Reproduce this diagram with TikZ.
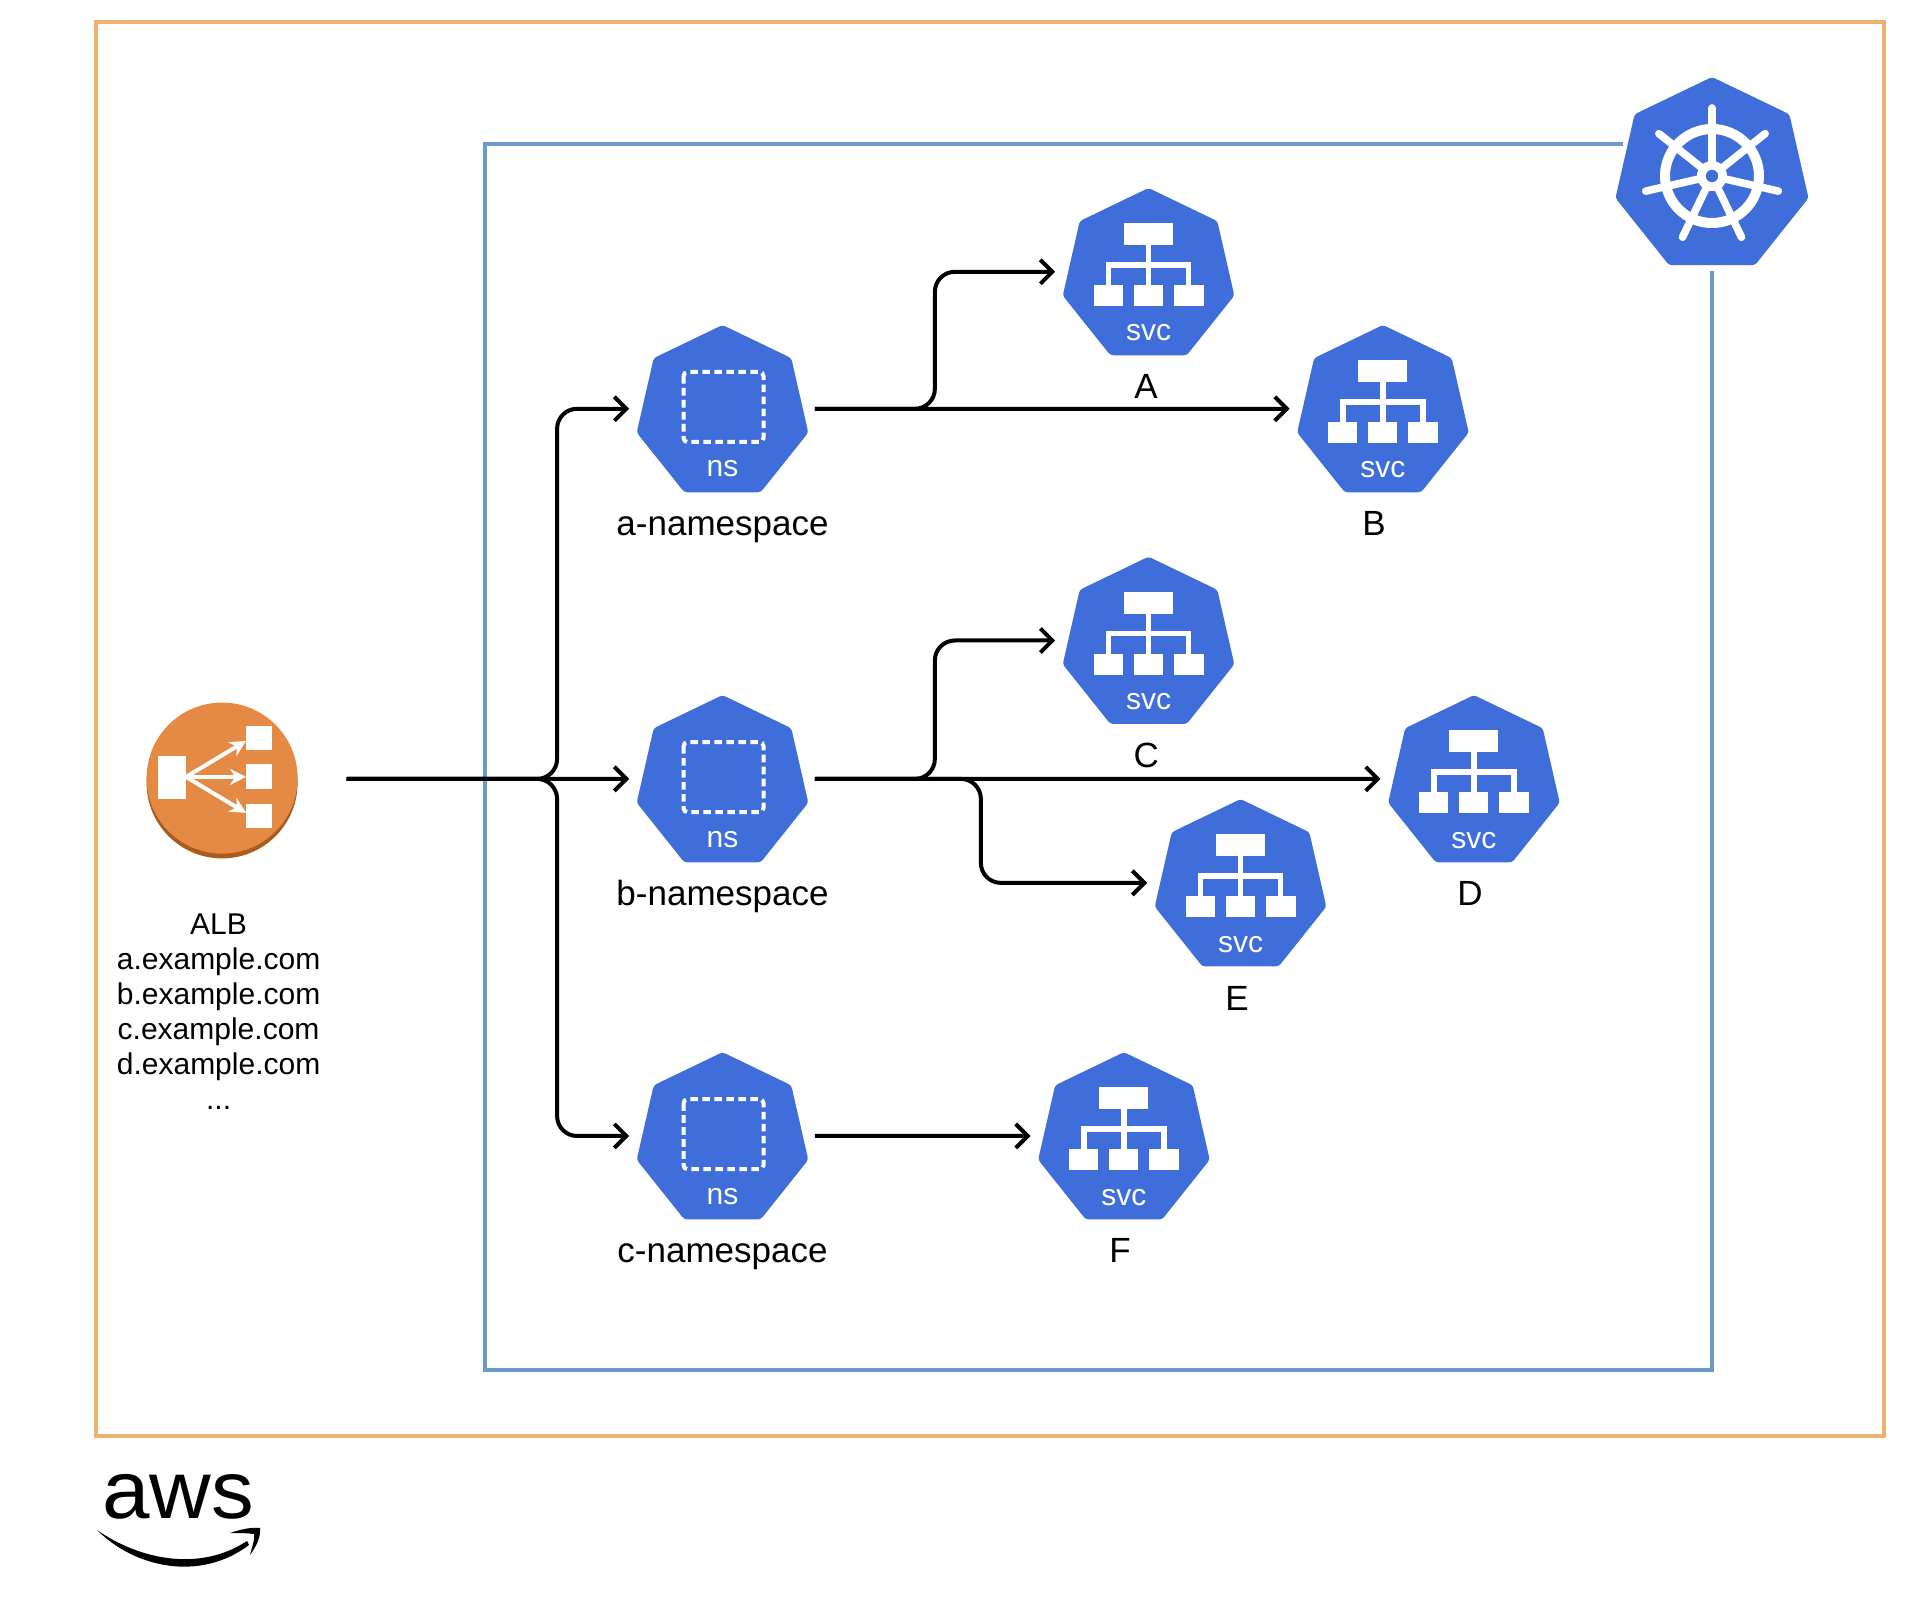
\documentclass[tikz,border=0pt]{standalone}
\usepackage{fontspec}
\setmainfont{Liberation Sans}
\usetikzlibrary{positioning,arrows.meta,shapes.geometric}
\definecolor{k8sblue}{HTML}{3F6EDB}
\definecolor{awsframe}{HTML}{EDB26E}
\definecolor{clusterframe}{HTML}{6C9BCB}
\definecolor{albfill}{HTML}{E58A45}
\definecolor{albshade}{HTML}{A85C1E}

\begin{document}
\begin{tikzpicture}[x=0.5pt,y=-0.5pt]
  \tikzstyle{hept}=[regular polygon,regular polygon sides=7,minimum size=88pt,inner sep=0pt,outer sep=0pt,fill=k8sblue,rounded corners=1.5pt]
  \tikzstyle{tag}=[inner sep=0pt,font=\fontsize{17.5}{20}\selectfont]
  \tikzstyle{glyphtext}=[inner sep=0pt,text=white,font=\fontsize{15}{18}\selectfont]
  \tikzstyle{link}=[line width=2pt,rounded corners=10pt,shorten <=6pt,shorten >=6.5pt,-{Straight Barb[length=6pt,width=12pt]}]
  \useasboundingbox (0,0) rectangle (1924,1598);
  % frames
  \draw[awsframe,line width=2.4pt] (96,22) rectangle (1884,1436);
  \draw[clusterframe,line width=2.2pt] (1623,144) -| (485,1370) -| (1712,271);
  \node[hept,minimum size=99pt] (k8s) at (1712,176) {};
  % namespaces
  \node[hept] (nsA) at (722.5,413) {};
  \node[hept,below=101.4pt of nsA] (nsB) {};
  \node[hept,below=94.9pt of nsB] (nsC) {};
  % services
  \node[hept,right=131.7pt of nsA,yshift=68.5pt] (svcA) {};
  \node[hept,right=248.9pt of nsA] (svcB) {};
  \node[hept,right=131.7pt of nsB,yshift=69.2pt] (svcC) {};
  \node[hept,right=294.4pt of nsB] (svcD) {};
  \node[hept,right=177.7pt of nsB,yshift=-52pt] (svcE) {};
  \node[hept,right=119.4pt of nsC] (svcF) {};
  % balancer
  \node[circle,minimum size=75.5pt,inner sep=0pt,outer sep=0pt,left=171.8pt of nsB,yshift=2.1pt] (alb) {};
  \fill[albshade] ([yshift=-2pt]alb.center) circle (37.75pt);
  \fill[albfill] ([yshift=0.4pt]alb.center) circle (37.75pt);
  % labels
  \node[tag,below=12pt of nsA] (nsAtag) {a-namespace};
  \node[tag,below=8.5pt of nsB] (nsBtag) {b-namespace};
  \node[tag,below=12pt of nsC] (nsCtag) {c-namespace};
  \node[tag,below=9.5pt of svcA,xshift=-1.2pt] (svcAtag) {A};
  \node[tag,below=9.5pt of svcB,xshift=-4.5pt] (svcBtag) {B};
  \node[tag,below=9.5pt of svcC,xshift=-1.2pt] (svcCtag) {C};
  \node[tag,below=9.5pt of svcD,xshift=-2pt] (svcDtag) {D};
  \node[tag,below=10pt of svcE,xshift=-1.7pt] (svcEtag) {E};
  \node[tag,below=9.5pt of svcF,xshift=-2pt] (svcFtag) {F};
  \node[inner sep=0pt,align=center,font=\fontsize{15}{17.5}\selectfont,below=29.3pt of alb,xshift=-1.75pt] (albtag) {ALB\\a.example.com\\b.example.com\\c.example.com\\d.example.com\\...};
  % glyphs
  \foreach \n in {nsA,nsB,nsC}{
    \begin{scope}[shift={(\n.center)}]
      \draw[white,line width=2pt,dash pattern=on 3.8pt off 2.2pt,rounded corners=2pt] (-39,-41) rectangle (41,29);
      \node[glyphtext] (\n-txt) at (0,56) {ns};
    \end{scope}
  }
  \foreach \n in {svcA,svcB,svcC,svcD,svcE,svcF}{
    \begin{scope}[shift={(\n.center)}]
      \fill[white] (-24.5,-53) rectangle (24.5,-31);
      \fill[white] (-55,9) rectangle (-25.5,30);
      \fill[white] (-14.5,9) rectangle (14.5,30);
      \fill[white] (25.5,9) rectangle (55,30);
      \draw[white,line width=2.8pt] (0,-31) -- (0,9);
      \draw[white,line width=2.8pt] (-40,9) -- (-40,-11) -- (40,-11) -- (40,9);
      \node[glyphtext] (\n-txt) at (0,57) {svc};
    \end{scope}
  }
  % wheel
  \begin{scope}[shift={(k8s.center)}]
    \draw[white,line width=5pt] (0,0) circle (23.5pt);
    \foreach \a in {0,...,6}{
      \draw[white,line width=3.8pt,line cap=round] (0,0) -- (-90+\a*51.43:68);
    }
    \fill[white] (0,0) circle (7.5pt);
    \fill[k8sblue] (0,0) circle (3.1pt);
  \end{scope}
  % balancer glyph
  \begin{scope}[shift={(alb.center)}]
    \fill[white] (-64,-23) rectangle (-36,20);
    \fill[white] (24,-53) rectangle (50,-29);
    \fill[white] (24,-15) rectangle (50,10);
    \fill[white] (24,25) rectangle (50,49);
    \draw[white,line width=2pt,-{Stealth[length=8pt,width=8pt]}] (-36,-2) -- (24,-38);
    \draw[white,line width=2pt,-{Stealth[length=8pt,width=8pt]}] (-36,-2) -- (24,-2);
    \draw[white,line width=2pt,-{Stealth[length=8pt,width=8pt]}] (-36,-2) -- (24,34);
  \end{scope}
  % links
  \draw[link,shorten <=24.5pt] (alb.east) -- (nsB.177);
  \draw[link,shorten <=24.5pt] (alb.east) -- ++(129.75pt,0) |- (nsA.177);
  \draw[link,shorten <=24.5pt] (alb.east) -- ++(129.75pt,0) |- (nsC.177);
  \draw[link] (nsA.3) -- ++(66pt,0) |- (svcA.177);
  \draw[link] (nsA.3) -- (svcB.177);
  \draw[link] (nsB.3) -- ++(66pt,0) |- (svcC.177);
  \draw[link] (nsB.3) -- (svcD.177);
  \draw[link] (nsB.3) -- ++(89pt,0) |- (svcE.177);
  \draw[link] (nsC.3) -- (svcF.177);
  % aws mark
  \node[inner sep=0pt,font=\fontsize{41}{44}\selectfont,xscale=1.04] (awstxt) at (178,1497) {aws};
  \fill (97,1530) .. controls (140,1560) and (200,1572) .. (247,1541) -- (249,1545) .. controls (200,1582) and (135,1568) .. (97,1530) -- cycle;
  \fill (230,1533) .. controls (242,1529) and (252,1527) .. (260,1528) .. controls (261,1537) and (256,1547) .. (250,1555) .. controls (252,1547) and (255,1540) .. (254,1534) .. controls (247,1533) and (240,1533) .. (230,1533) -- cycle;
\end{tikzpicture}
\end{document}
